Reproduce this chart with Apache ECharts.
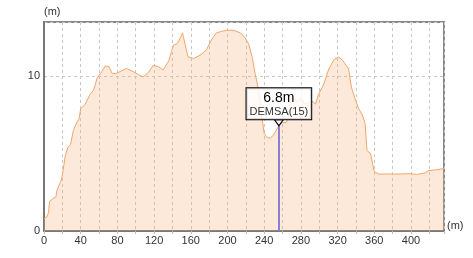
<!DOCTYPE html>
<html>
<head>
<meta charset="utf-8">
<script src="https://cdn.jsdelivr.net/npm/echarts@6/dist/echarts.min.js"></script>
<style>
html,body{margin:0;padding:0;background:#fff;}
#chart{width:473px;height:258px;}
</style>
</head>
<body>
<div id="chart"></div>
<script>
// Profile data: distance (m) and elevation (m)
var distances = [0,3,5,6,10,13,14,16,19,21,23,26,29,32,36,38,40,45,50,54,56,58,63,67,71,74,78,83,90,97,103,108,114,119,125,130,136,139,141,145,148,151,154,157,163,170,177,183,188,194,199,206,214,219,223,227,230,234,237,240,243,247,250,253,256,260,264,266,268,272,276,280,284,288,292,296,299,305,310,316,321,326,328,332,335,339,343,347,350,352,356,358,360,365,383,401,406,416,419,427,436];
var elevations = [0.8,0.9,1.2,1.9,2.1,2.2,2.6,2.9,3.3,4.0,4.8,5.4,5.6,6.5,7.05,7.2,7.9,8.2,8.8,9.1,9.5,9.9,10.3,10.67,10.6,10.2,10.15,10.3,10.5,10.3,10.1,9.95,10.25,10.7,10.6,10.4,11.0,11.6,12.0,12.1,12.4,12.8,12.0,11.25,11.14,11.35,11.7,12.4,12.8,12.9,12.97,12.97,12.8,12.5,12.1,11.2,10.2,9.1,7.6,6.3,6.05,6.0,6.2,6.5,6.8,7.0,7.0,7.3,8.4,8.7,8.3,8.6,8.2,8.3,8.4,8.2,8.8,9.5,10.4,11.07,11.25,11.0,10.8,10.5,9.3,8.56,7.9,7.5,6.95,5.2,5.0,4.4,3.83,3.68,3.68,3.7,3.65,3.76,3.9,3.95,4.04];
var xTickLabels = [0,40,80,120,160,200,240,280,320,360,400];
var yTickLabels = [0,10];
var cursorDistance = 256;
var cursorElevation = 6.8;
var cursorName = 'DEMSA(15)';
var unitName = '(m)';

var FONT = 'Liberation Sans';
var chart = echarts.init(document.getElementById('chart'), null, {renderer:'canvas'});
var seriesData = distances.map(function(d,i){return [d, elevations[i]];});

chart.setOption({
  animation:false,
  grid:{left:44, top:22, right:29, bottom:27, show:true, borderColor:'#888', borderWidth:2, backgroundColor:'transparent'},
  xAxis:{
    type:'value', min:0, max:436, interval:20,
    name:unitName, nameLocation:'end', nameGap:3,
    nameTextStyle:{fontFamily:FONT, fontSize:11, color:'#333', align:'left', verticalAlign:'bottom', padding:[0,0,0,0]},
    axisLine:{show:true, onZero:false, lineStyle:{color:'#777', width:2}},
    axisTick:{show:true, length:3, lineStyle:{color:'#bbb', type:'dashed'}},
    axisLabel:{fontFamily:FONT, fontSize:11, color:'#333', margin:4,
      formatter:function(v){return xTickLabels.indexOf(v)>=0 ? String(v) : '';}},
    splitLine:{show:true, lineStyle:{color:'#c8c8c8', type:[3,3], width:1}}
  },
  yAxis:{
    type:'value', min:0, max:13.5, interval:10,
    name:unitName, nameLocation:'end', nameGap:10,
    nameTextStyle:{fontFamily:FONT, fontSize:11, color:'#333', align:'left', verticalAlign:'middle'},
    axisLine:{show:true, lineStyle:{color:'#777', width:2}},
    axisTick:{show:false},
    axisLabel:{fontFamily:FONT, fontSize:11, color:'#333', margin:4,
      formatter:function(v){return yTickLabels.indexOf(v)>=0 ? String(v) : '';}},
    splitLine:{show:true, lineStyle:{color:'#c8c8c8', type:[3,3], width:1}}
  },
  series:[{
    type:'line',
    data:seriesData,
    showSymbol:false,
    symbol:'none',
    lineStyle:{color:'#f0a66c', width:1},
    areaStyle:{color:'rgba(246,174,118,0.38)'},
    markLine:{
      silent:true, symbol:'none', animation:false,
      lineStyle:{color:'#8a7fd4', width:2, type:'solid'},
      label:{show:false},
      data:[[{coord:[cursorDistance,0]},{coord:[cursorDistance,cursorElevation]}]]
    },
    markPoint:{
      silent:true, animation:false,
      symbol:'triangle', symbolRotate:180, symbolSize:[9,6], symbolOffset:[0,-3],
      itemStyle:{color:'#fff', borderColor:'#000', borderWidth:1},
      data:[{coord:[cursorDistance,cursorElevation]}],
      label:{
        show:true, position:'top', distance:0,
        formatter:'{a|'+cursorElevation+'m}\n{b|'+cursorName+'}',
        backgroundColor:'rgba(255,255,255,0.8)', borderColor:'#000', borderWidth:1,
        padding:[2,3,1,3],
        rich:{
          a:{fontFamily:FONT, fontSize:14, lineHeight:16, color:'#000', align:'center'},
          b:{fontFamily:FONT, fontSize:11, lineHeight:12, color:'#333', align:'center'}
        }
      }
    }
  }]
});
</script>
</body>
</html>
